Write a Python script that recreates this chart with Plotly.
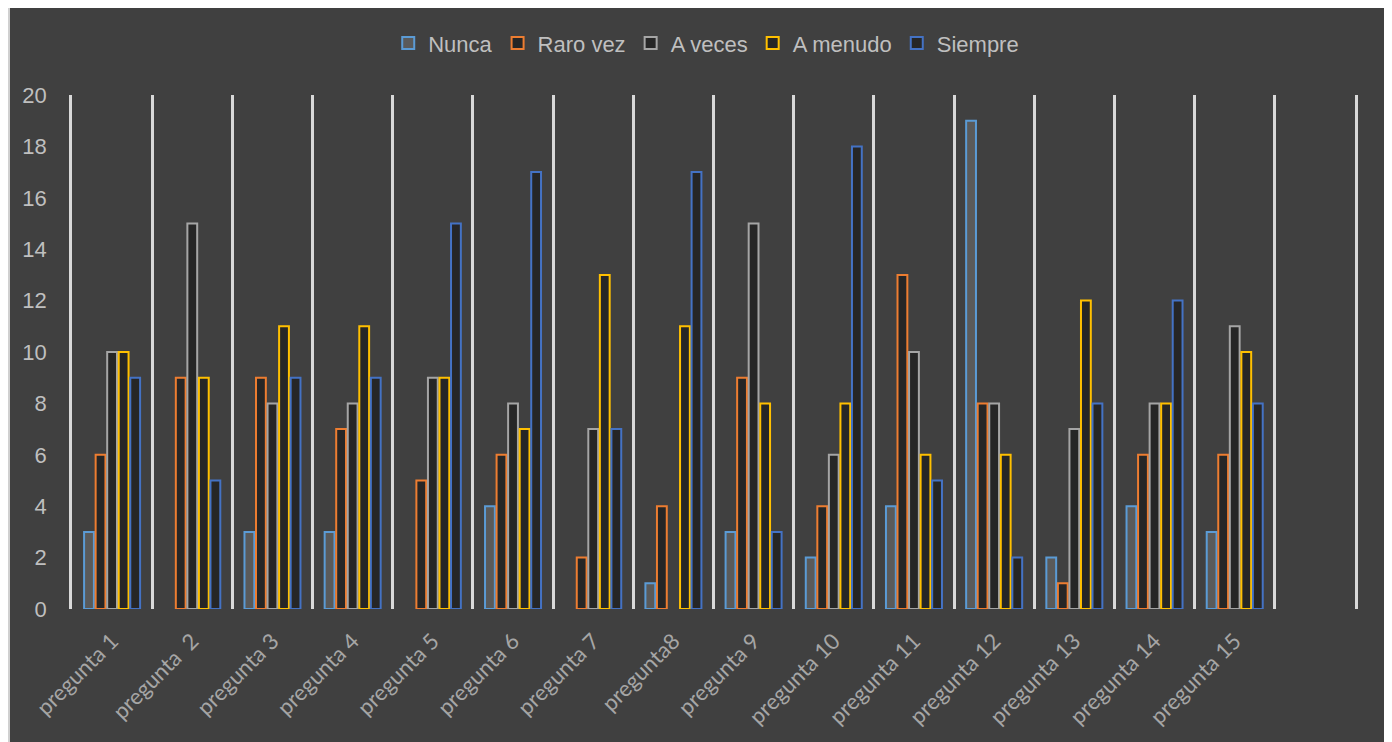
import plotly.graph_objects as go

categories = ["pregunta 1", "pregunta  2", "pregunta 3", "pregunta 4", "pregunta 5",
              "pregunta 6", "pregunta 7", "pregunta8", "pregunta 9", "pregunta 10",
              "pregunta 11", "pregunta 12", "pregunta 13", "pregunta 14", "pregunta 15", "\u00a0"]

nunca    = [3, 0, 3, 3, 0, 4, 0, 1, 3, 2, 4, 19, 2, 4, 3, None]
raro_vez = [6, 9, 9, 7, 5, 6, 2, 4, 9, 4, 13, 8, 1, 6, 6, None]
a_veces  = [10, 15, 8, 8, 9, 8, 7, 0, 15, 6, 10, 8, 7, 8, 11, None]
a_menudo = [10, 9, 11, 11, 9, 7, 13, 11, 8, 8, 6, 6, 12, 8, 10, None]
siempre  = [9, 5, 9, 9, 15, 17, 7, 17, 3, 18, 5, 2, 8, 12, 8, None]

series_names = ["Nunca", "Raro vez", "A veces", "A menudo", "Siempre"]
series_vals = [nunca, raro_vez, a_veces, a_menudo, siempre]
line_colors = ["#5B9BD5", "#ED7D31", "#A5A5A5", "#FFC000", "#4472C4"]
fill_colors = ["#5a5a5a", "#262626", "#262626", "#262626", "#262626"]

fig = go.Figure()
for name, vals, lc, fc in zip(series_names, series_vals, line_colors, fill_colors):
    widths = [0 if (v is None or v == 0) else 2 for v in vals]
    fig.add_trace(go.Bar(
        x=categories, y=vals, name=name,
        marker=dict(color=fc, line=dict(color=lc, width=widths)),
    ))

W, H = 1378, 734
fig.update_layout(
    width=W, height=H,
    paper_bgcolor="#404040", plot_bgcolor="#404040",
    margin=dict(l=64, r=31, t=87, b=133, autoexpand=False),
    barmode="group", bargap=0.28, bargroupgap=0.15,
    font=dict(family="Liberation Sans, Arial, sans-serif", color="#bfbfbf"),
    legend=dict(orientation="h", x=0.5067, xanchor="center", xref="container",
                y=0.952, yanchor="middle", yref="container",
                font=dict(size=22, color="#bfbfbf"), bgcolor="rgba(0,0,0,0)",
                itemwidth=30, traceorder="normal"),
    showlegend=True,
    xaxis=dict(
        type="category", categoryorder="array", categoryarray=categories,
        range=[-0.5, len(categories) - 0.5],
        tickson="boundaries", showgrid=True,
        gridcolor="#d9d9d9", gridwidth=2.5, ticks="", ticklabelstandoff=14,
        tickangle=-45,
        tickfont=dict(family="Lato, Open Sans, sans-serif", size=22, color="#a6a6a6"),
        showline=False, zeroline=False,
    ),
    yaxis=dict(
        range=[0, 20], dtick=2, showgrid=False, zeroline=False,
        showline=True, mirror=True, linecolor="#d9d9d9", linewidth=2.5,
        tickfont=dict(size=22, color="#bfbfbf"), ticks="outside", ticklen=18,
        tickcolor="rgba(0,0,0,0)",
    ),
    shapes=[
        dict(type="line", xref="paper", yref="paper",
             x0=-63.0 / 1283, x1=-63.0 / 1283, y0=-133.0 / 514, y1=(514 + 87.0) / 514,
             line=dict(color="#d0d0d0", width=2)),
        dict(type="line", xref="paper", yref="paper",
             x0=1.0 + 30.0 / 1283, x1=1.0 + 30.0 / 1283, y0=-133.0 / 514, y1=(514 + 87.0) / 514,
             line=dict(color="#d0d0d0", width=2)),
    ],
)

fig.write_html("out.html")
